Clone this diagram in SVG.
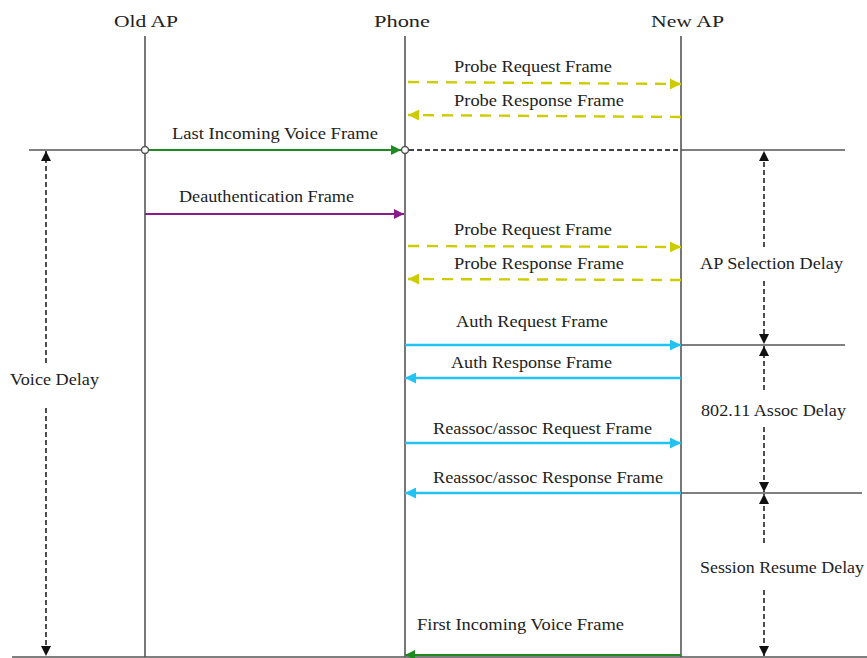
<svg xmlns="http://www.w3.org/2000/svg" width="867" height="658" viewBox="0 0 867 658">
<style>
text{font-family:"Liberation Serif","Times New Roman",serif;font-size:17px;fill:#222}
.life{stroke:#555;stroke-width:1.6;fill:none}
.rule{stroke:#555;stroke-width:1.6;fill:none}
.green{stroke:#1f8a1f;stroke-width:2.2;fill:none}
.purple{stroke:#8b1a8b;stroke-width:2.2;fill:none}
.cyan{stroke:#22c3f2;stroke-width:2.4;fill:none}
.yellow{stroke:#cccc00;stroke-width:2.4;fill:none;stroke-dasharray:11 8}
.gdash{stroke:#444;stroke-width:1.8;fill:none;stroke-dasharray:5 3}
.bdash{stroke:#222;stroke-width:1.6;fill:none;stroke-dasharray:5 3}
</style>
<defs>
<marker id="aG" viewBox="0 0 10 10" refX="10" refY="5" markerWidth="10" markerHeight="10" markerUnits="userSpaceOnUse" orient="auto"><path d="M0,0L10,5L0,10z" fill="#1f8a1f"/></marker>
<marker id="aP" viewBox="0 0 10 10" refX="10" refY="5" markerWidth="10" markerHeight="10" markerUnits="userSpaceOnUse" orient="auto"><path d="M0,0L10,5L0,10z" fill="#8b1a8b"/></marker>
<marker id="aC" viewBox="0 0 10 10" refX="10" refY="5" markerWidth="11" markerHeight="11" markerUnits="userSpaceOnUse" orient="auto"><path d="M0,0L10,5L0,10z" fill="#22c3f2"/></marker>
<marker id="aY" viewBox="0 0 10 10" refX="10" refY="5" markerWidth="11" markerHeight="11" markerUnits="userSpaceOnUse" orient="auto"><path d="M0,0L10,5L0,10z" fill="#cccc00"/></marker>
<marker id="aK" viewBox="0 0 10 10" refX="10" refY="5" markerWidth="10" markerHeight="10" markerUnits="userSpaceOnUse" orient="auto"><path d="M0,0L10,5L0,10z" fill="#111"/></marker>
</defs>

<g id="old-ap">
<line class="life" x1="145" y1="36" x2="145" y2="657"/>
<text x="114" y="27" textLength="64" lengthAdjust="spacingAndGlyphs">Old AP</text>
</g>
<g id="phone">
<line class="life" x1="405" y1="36" x2="405" y2="657"/>
<text x="374" y="27" textLength="56" lengthAdjust="spacingAndGlyphs">Phone</text>
</g>
<g id="new-ap">
<line class="life" x1="681" y1="36" x2="681" y2="657"/>
<text x="651" y="27" textLength="73" lengthAdjust="spacingAndGlyphs">New AP</text>
</g>

<g id="rules">
<line class="rule" x1="29" y1="150" x2="145" y2="150"/>
<line class="gdash" x1="409" y1="150" x2="681" y2="150"/>
<line class="rule" x1="681" y1="150" x2="845" y2="150"/>
<line class="rule" x1="681" y1="345" x2="845" y2="345"/>
<line class="rule" x1="681" y1="493" x2="862" y2="493"/>
<line class="rule" x1="12" y1="657" x2="867" y2="657"/>
</g>

<g id="connectors">
<line class="green" x1="149" y1="150" x2="401" y2="150" marker-end="url(#aG)"/>
<line class="purple" x1="145" y1="214" x2="404" y2="214" marker-end="url(#aP)"/>
<line class="yellow" x1="408" y1="82" x2="681" y2="84" marker-end="url(#aY)"/>
<line class="yellow" x1="681" y1="117" x2="408" y2="115" marker-end="url(#aY)"/>
<line class="yellow" x1="408" y1="246" x2="681" y2="247" marker-end="url(#aY)"/>
<line class="yellow" x1="681" y1="280" x2="408" y2="279" marker-end="url(#aY)"/>
<line class="cyan" x1="405" y1="345" x2="681" y2="345" marker-end="url(#aC)"/>
<line class="cyan" x1="681" y1="378" x2="405" y2="378" marker-end="url(#aC)"/>
<line class="cyan" x1="405" y1="443" x2="681" y2="443" marker-end="url(#aC)"/>
<line class="cyan" x1="681" y1="493" x2="405" y2="493" marker-end="url(#aC)"/>
<line class="green" x1="681" y1="655" x2="405" y2="655" marker-end="url(#aG)"/>
<circle cx="145" cy="150" r="3.5" fill="#fff" stroke="#555" stroke-width="1.4"/>
<circle cx="405" cy="150" r="3.5" fill="#fff" stroke="#555" stroke-width="1.4"/>
</g>

<g id="message-labels">
<text x="454" y="72" textLength="158" lengthAdjust="spacingAndGlyphs">Probe Request Frame</text>
<text x="454" y="106" textLength="170" lengthAdjust="spacingAndGlyphs">Probe Response Frame</text>
<text x="172" y="139" textLength="206" lengthAdjust="spacingAndGlyphs">Last Incoming Voice Frame</text>
<text x="179" y="202" textLength="175" lengthAdjust="spacingAndGlyphs">Deauthentication Frame</text>
<text x="454" y="235" textLength="158" lengthAdjust="spacingAndGlyphs">Probe Request Frame</text>
<text x="454" y="269" textLength="170" lengthAdjust="spacingAndGlyphs">Probe Response Frame</text>
<text x="456" y="327" textLength="152" lengthAdjust="spacingAndGlyphs">Auth Request Frame</text>
<text x="451" y="368" textLength="161" lengthAdjust="spacingAndGlyphs">Auth Response Frame</text>
<text x="433" y="434" textLength="219" lengthAdjust="spacingAndGlyphs">Reassoc/assoc Request Frame</text>
<text x="433" y="483" textLength="230" lengthAdjust="spacingAndGlyphs">Reassoc/assoc Response Frame</text>
<text x="417" y="630" textLength="207" lengthAdjust="spacingAndGlyphs">First Incoming Voice Frame</text>
</g>

<g id="voice-delay">
<line class="bdash" x1="46" y1="363" x2="46" y2="151" marker-end="url(#aK)"/>
<line class="bdash" x1="46" y1="408" x2="46" y2="656" marker-end="url(#aK)"/>
<text x="10" y="385" textLength="89" lengthAdjust="spacingAndGlyphs">Voice Delay</text>
</g>
<g id="ap-selection-delay">
<line class="bdash" x1="764" y1="247" x2="764" y2="151" marker-end="url(#aK)"/>
<line class="bdash" x1="764" y1="281" x2="764" y2="344" marker-end="url(#aK)"/>
<text x="700" y="269" textLength="143" lengthAdjust="spacingAndGlyphs">AP Selection Delay</text>
</g>
<g id="assoc-delay">
<line class="bdash" x1="764" y1="390" x2="764" y2="346" marker-end="url(#aK)"/>
<line class="bdash" x1="764" y1="427" x2="764" y2="492" marker-end="url(#aK)"/>
<text x="701" y="416" textLength="145" lengthAdjust="spacingAndGlyphs">802.11 Assoc Delay</text>
</g>
<g id="session-resume-delay">
<line class="bdash" x1="764" y1="543" x2="764" y2="494" marker-end="url(#aK)"/>
<line class="bdash" x1="764" y1="590" x2="764" y2="656" marker-end="url(#aK)"/>
<text x="700" y="573" textLength="164" lengthAdjust="spacingAndGlyphs">Session Resume Delay</text>
</g>
</svg>
